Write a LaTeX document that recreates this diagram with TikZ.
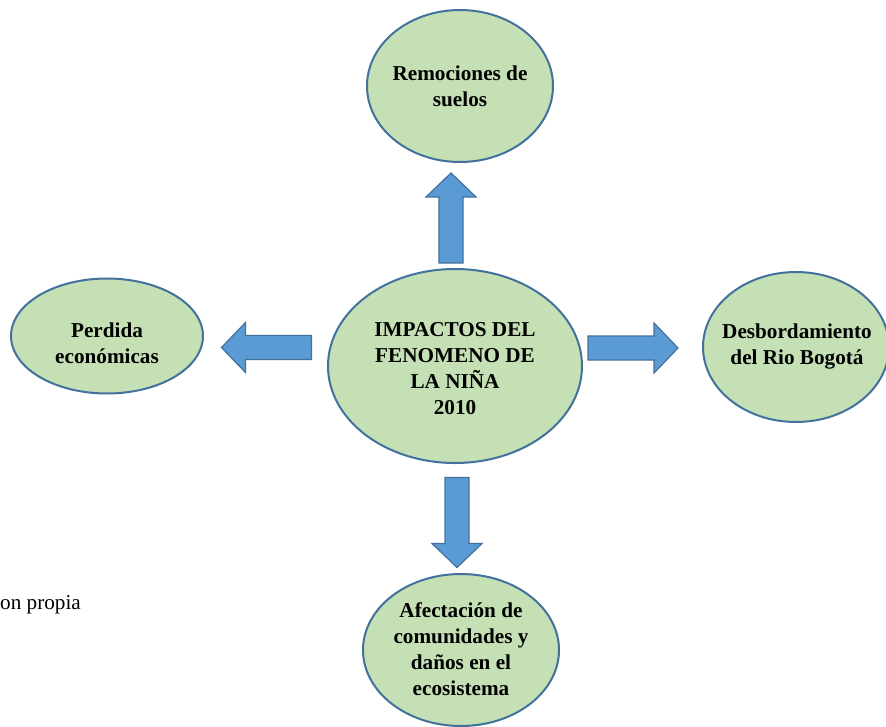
\documentclass[tikz,border=0pt]{standalone}
\usepackage{fontspec}
\setmainfont{Liberation Serif}
\usetikzlibrary{shapes.geometric}
\definecolor{ovfill}{HTML}{C5E0B4}
\definecolor{ovline}{HTML}{41719C}
\definecolor{arfill}{HTML}{5B9BD5}
\tikzset{
  oval/.style={ellipse, draw=ovline, line width=2pt, fill=ovfill, inner sep=0pt},
  ovtext/.style={align=center, inner sep=0pt, font=\fontsize{21.2}{26}\selectfont\bfseries},
  arrowbody/.style={draw=ovline, line width=1.2pt, fill=arfill, line join=miter},
  blockarrow/.pic={\path[arrowbody] (-45,-12) -- (21,-12) -- (21,-25) -- (45,0)
      -- (21,25) -- (21,12) -- (-45,12) -- cycle;}
}
\begin{document}
\begin{tikzpicture}[x=1pt,y=-1pt]
\useasboundingbox (0,0) rectangle (886,726);
\clip (0,0) rectangle (886,726);
% ellipses
\node[oval, minimum width=186pt, minimum height=152pt] (top) at (460,86) {};
\node[oval, minimum width=254pt, minimum height=194pt] (mid) at (455,366) {};
\node[oval, minimum width=192pt, minimum height=115pt] (left) at (107,336) {};
\node[oval, minimum width=186pt, minimum height=150pt] (right) at (796,347) {};
\node[oval, minimum width=196pt, minimum height=152pt] (bot) at (461,650) {};
% texts
\node[ovtext] (toptext) at (460,86) {Remociones de\\suelos};
\node[ovtext] (midtext) at (455,369) {IMPACTOS DEL\\FENOMENO DE\\LA NIÑA\\2010};
\node[ovtext] (lefttext) at (107,343) {Perdida\\económicas};
\node[ovtext] (righttext) at (797,346) {Desbordamiento\\del Rio Bogotá};
\node[ovtext] (bottext) at (461,649) {Afectación de\\comunidades y\\daños en el\\ecosistema};
% block arrows
\coordinate (aup) at (451,218);
\coordinate (aright) at (633,348);
\coordinate (aleft) at (266.5,347.5);
\coordinate (adown) at (457,522.5);
\pic[rotate=90] at (aup) {blockarrow};
\pic at (aright) {blockarrow};
\pic[rotate=180] at (aleft) {blockarrow};
\pic[rotate=-90] at (adown) {blockarrow};
% source note
\node[anchor=base west, inner sep=0pt, font=\fontsize{21.2}{26}\selectfont] (src) at (0,609) {on propia};
\end{tikzpicture}
\end{document}
